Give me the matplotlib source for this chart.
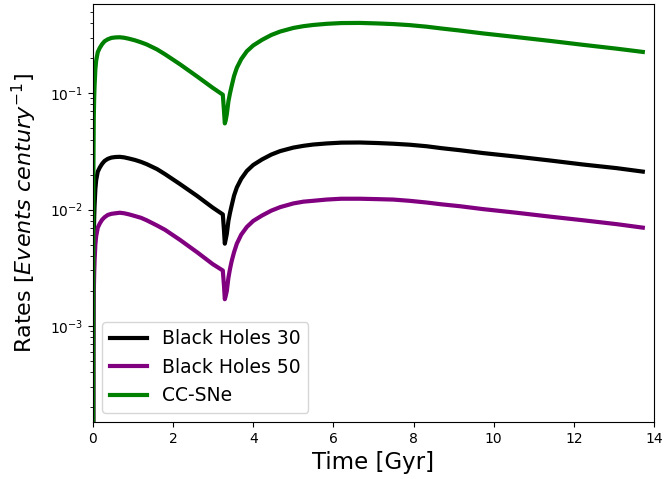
import numpy as np
import matplotlib.pyplot as plt

# Time grid [Gyr] and rates [events / century]
time = [0.0, 0.01, 0.02, 0.03, 0.04, 0.06, 0.08, 0.12, 0.17, 0.23, 0.29, 0.37,
        0.46, 0.56, 0.67, 0.78, 0.9, 1.05, 1.2, 1.34, 1.6, 1.8, 2.17, 2.6,
        2.99, 3.24, 3.27, 3.29, 3.31, 3.34, 3.38, 3.42, 3.46, 3.52, 3.59, 3.7,
        3.84, 4.0, 4.22, 4.45, 4.67, 5.0, 5.25, 5.49, 5.83, 6.2, 6.66, 7.1,
        7.49, 7.9, 8.33, 8.7, 9.15, 9.73, 10.57, 11.41, 12.23, 13.07, 13.72]

cc_sne = [1e-6, 0.02, 0.06, 0.09, 0.115, 0.16, 0.19, 0.225, 0.245, 0.264,
          0.279, 0.290, 0.298, 0.301, 0.302, 0.299, 0.293, 0.284, 0.273, 0.262,
          0.237, 0.215, 0.177, 0.139, 0.111, 0.097, 0.070, 0.055, 0.058, 0.066,
          0.085, 0.100, 0.115, 0.140, 0.165, 0.196, 0.229, 0.257, 0.287, 0.316,
          0.338, 0.363, 0.376, 0.385, 0.394, 0.400, 0.401, 0.397, 0.392, 0.384,
          0.372, 0.359, 0.345, 0.326, 0.303, 0.281, 0.260, 0.241, 0.226]

bh30 = [1e-7, 0.0019, 0.0056, 0.0085, 0.0108, 0.0150, 0.0179, 0.0212, 0.0230,
        0.0248, 0.0262, 0.0273, 0.0280, 0.0283, 0.0284, 0.0281, 0.0275, 0.0267,
        0.0257, 0.0246, 0.0223, 0.0202, 0.0166, 0.0131, 0.0104, 0.0091, 0.0066,
        0.0051, 0.0055, 0.0062, 0.0080, 0.0094, 0.0108, 0.0132, 0.0155, 0.0184,
        0.0215, 0.0242, 0.0270, 0.0297, 0.0318, 0.0341, 0.0353, 0.0362, 0.0370,
        0.0376, 0.0377, 0.0373, 0.0368, 0.0361, 0.0350, 0.0337, 0.0324, 0.0306,
        0.0285, 0.0264, 0.0244, 0.0227, 0.0212]

bh50 = [3e-8, 0.00062, 0.0019, 0.0028, 0.0036, 0.0050, 0.0059, 0.0070, 0.0076,
        0.0082, 0.0086, 0.0090, 0.0092, 0.0093, 0.0094, 0.0093, 0.0091, 0.0088,
        0.0085, 0.0081, 0.0073, 0.0067, 0.0055, 0.0043, 0.0034, 0.0030, 0.0022,
        0.0017, 0.0018, 0.0020, 0.0026, 0.0031, 0.0036, 0.0043, 0.0051, 0.0061,
        0.0071, 0.0080, 0.0089, 0.0098, 0.0105, 0.0113, 0.0117, 0.0119, 0.0122,
        0.0124, 0.0124, 0.0123, 0.0122, 0.0119, 0.0115, 0.0111, 0.0107, 0.0101,
        0.0094, 0.0087, 0.0081, 0.0075, 0.0070]

fig = plt.figure(figsize=(6.64, 4.79), dpi=100)
ax = fig.add_axes([0.140, 0.119, 0.845, 0.873])

ax.plot(time, bh30, color='black', lw=3, label='Black Holes 30')
ax.plot(time, bh50, color='purple', lw=3, label='Black Holes 50')
ax.plot(time, cc_sne, color='green', lw=3, label='CC-SNe')

ax.set_yscale('log')
ax.set_xlim(0, 14)
ax.set_ylim(1.5e-4, 0.585)
ax.set_xlabel('Time [Gyr]', fontsize=16.5)
ax.set_ylabel(r'Rates [$Events\ century^{-1}$]', fontsize=16, labelpad=8)
ax.legend(loc='lower left', fontsize=13.5)

fig.savefig('out.png', dpi=100)
